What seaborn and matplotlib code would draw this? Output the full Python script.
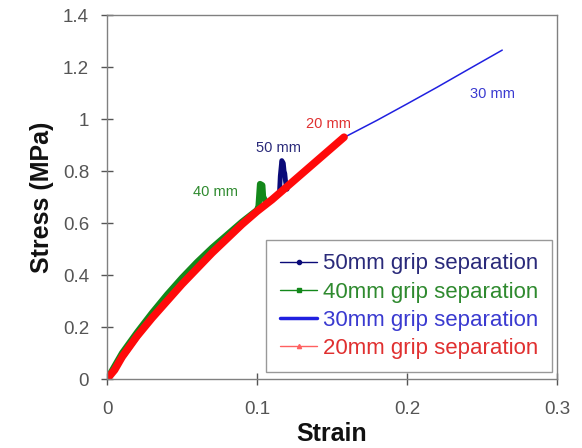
import matplotlib
matplotlib.use("Agg")
import matplotlib.pyplot as plt
import seaborn as sns
import pandas as pd
from matplotlib.lines import Line2D

sns.set_theme(style="white")
plt.rcParams['font.family'] = ['Liberation Sans', 'DejaVu Sans']

# 30 mm grip separation
strain_30 = [0, 0.01, 0.02, 0.04, 0.06, 0.08, 0.10, 0.12, 0.14, 0.16, 0.18, 0.20, 0.22, 0.24, 0.2635]
stress_30 = [0, 0.08, 0.16, 0.31, 0.43, 0.545, 0.645, 0.74, 0.84, 0.935, 0.995, 1.058, 1.122, 1.188, 1.265]

# 50 mm grip separation
strain_50 = [0, 0.01, 0.02, 0.04, 0.06, 0.08, 0.10, 0.11, 0.115, 0.1155, 0.1165, 0.1175, 0.118, 0.1185, 0.119, 0.12]
stress_50 = [0, 0.08, 0.16, 0.31, 0.43, 0.545, 0.645, 0.69, 0.72, 0.78, 0.84, 0.83, 0.80, 0.79, 0.76, 0.73]

# 40 mm grip separation
strain_40 = [0, 0.005, 0.01, 0.02, 0.03, 0.04, 0.05, 0.06, 0.07, 0.08, 0.09, 0.10, 0.101, 0.102, 0.1035, 0.104, 0.105]
stress_40 = [0, 0.05, 0.10, 0.18, 0.255, 0.325, 0.39, 0.45, 0.505, 0.555, 0.605, 0.65, 0.665, 0.75, 0.745, 0.70, 0.69]

# 20 mm grip separation
strain_20 = [0, 0.005, 0.01, 0.02, 0.03, 0.04, 0.05, 0.06, 0.07, 0.08, 0.09, 0.10, 0.11, 0.12, 0.13, 0.14, 0.15, 0.158]
stress_20 = [0, 0.035, 0.085, 0.165, 0.235, 0.30, 0.365, 0.425, 0.485, 0.54, 0.595, 0.645, 0.69, 0.74, 0.79, 0.84, 0.89, 0.93]

labels = ["50mm grip separation", "40mm grip separation", "30mm grip separation", "20mm grip separation"]
annot_text = ["50 mm", "40 mm", "30 mm", "20 mm"]
annot_x = [0.0995, 0.057, 0.242, 0.1327]
annot_y = [0.888, 0.72, 1.096, 0.98]

line_colors = ["#0a0a78", "#13881a", "#2020e0", "#ff0a0a"]
text_colors = ["#2a2a7a", "#2f8a2f", "#3a3ad0", "#e03030"]

fig = plt.figure(figsize=(5.82, 4.48), dpi=100)
ax = fig.add_axes([0.184, 0.154, 0.773, 0.8125])

df30 = pd.DataFrame({"Strain": strain_30, "Stress": stress_30})
df50 = pd.DataFrame({"Strain": strain_50, "Stress": stress_50})
df40 = pd.DataFrame({"Strain": strain_40, "Stress": stress_40})
df20 = pd.DataFrame({"Strain": strain_20, "Stress": stress_20})

sns.lineplot(data=df30, x="Strain", y="Stress", ax=ax, color=line_colors[2], linewidth=1.1, sort=False, estimator=None)
sns.lineplot(data=df50, x="Strain", y="Stress", ax=ax, color=line_colors[0], linewidth=3.5, sort=False, estimator=None, solid_capstyle="round")
sns.lineplot(data=df40, x="Strain", y="Stress", ax=ax, color=line_colors[1], linewidth=4.5, sort=False, estimator=None, solid_capstyle="round")
sns.lineplot(data=df20, x="Strain", y="Stress", ax=ax, color=line_colors[3], linewidth=5.5, sort=False, estimator=None, solid_capstyle="round")

for t, x, y, c in zip(annot_text, annot_x, annot_y, text_colors):
    ax.text(x, y, t, color=c, fontsize=10.5, ha="left", va="center")

ax.set_xlim(0, 0.3)
ax.set_ylim(0, 1.4)
ax.set_xticks([0, 0.1, 0.2, 0.3])
ax.set_xticklabels(["0", "0.1", "0.2", "0.3"])
ax.set_yticks([0, 0.2, 0.4, 0.6, 0.8, 1.0, 1.2, 1.4])
ax.set_yticklabels(["0", "0.2", "0.4", "0.6", "0.8", "1", "1.2", "1.4"])
ax.tick_params(axis="both", direction="inout", length=8, width=1, color="#555555",
               labelsize=13.5, labelcolor="#555555", bottom=True, left=True)
ax.tick_params(axis="x", pad=12)
ax.tick_params(axis="y", pad=9)
for s in ax.spines.values():
    s.set_color("#808080")
    s.set_linewidth(1)
ax.set_xlabel("Strain", fontsize=18, fontweight="bold", color="#111111", labelpad=3)
ax.set_ylabel("Stress (MPa)", fontsize=18, fontweight="bold", color="#111111", labelpad=6)

handles = [
    Line2D([], [], color=line_colors[0], marker="o", markersize=3, linewidth=1),
    Line2D([], [], color=line_colors[1], marker="s", markersize=3, linewidth=1),
    Line2D([], [], color=line_colors[2], linewidth=2.5),
    Line2D([], [], color="#ff6060", marker="^", markersize=3, linewidth=1),
]
leg = ax.legend(handles, labels, loc="lower right", bbox_to_anchor=(0.989, 0.019),
                fontsize=16, frameon=True, fancybox=False, edgecolor="#808080",
                handlelength=1.7, handletextpad=0.27, borderpad=0.6, labelspacing=0.32,
                borderaxespad=0)
leg.get_frame().set_linewidth(1)
for txt, c in zip(leg.get_texts(), text_colors):
    txt.set_color(c)

fig.savefig("out.png", dpi=100)
